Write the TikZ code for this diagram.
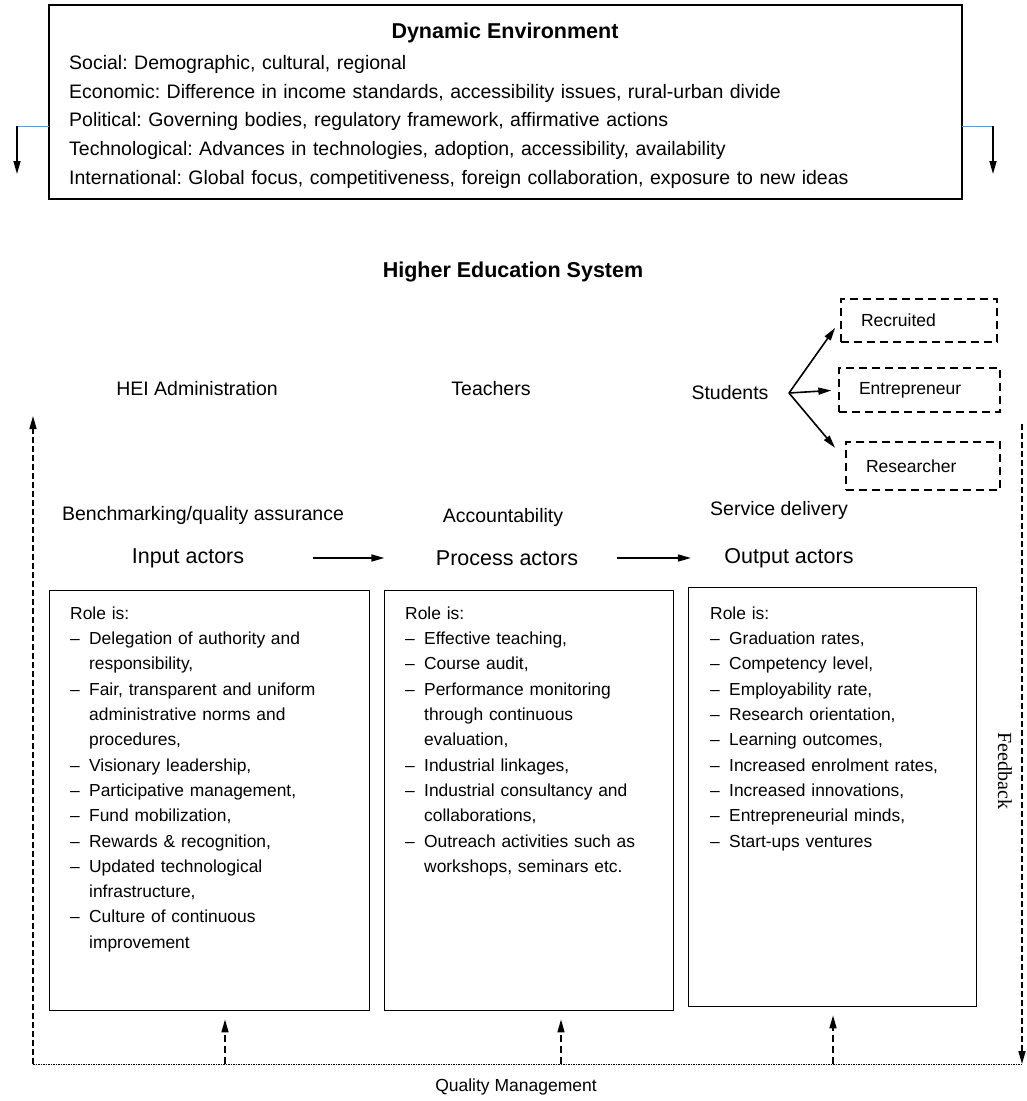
\documentclass[tikz,border=0pt]{standalone}
\usepackage{fontspec}
\setmainfont{Liberation Sans}
\newfontfamily\fbfont{Liberation Serif}
\usetikzlibrary{arrows.meta,positioning}
\definecolor{linkblue}{RGB}{91,155,213}
\setlength{\parindent}{0pt}
\frenchspacing
% one dash-led entry of a role list
\newcommand\roleitem[1]{\par\hangindent=19pt\hangafter=1\noindent\makebox[19pt][l]{\textendash}#1\par}

\begin{document}
\begin{tikzpicture}[x=1pt,y=-1pt,
    arr/.style={line width=1.6pt,-{Triangle[length=13pt,width=7pt]}},
    qmarr/.style={arr,dash pattern=on 7pt off 4pt},
    fbline/.style={line width=1.6pt,dash pattern=on 6pt off 3pt,-{Triangle[length=13pt,width=7pt]}},
    frame/.style={draw,line width=1.4pt,inner sep=0pt},
    outcome/.style={draw,line width=1.3pt,dash pattern=on 8pt off 5pt,inner xsep=20pt,inner ysep=0pt,
      align=left,font=\fontsize{17.5}{21}\selectfont},
    roletxt/.style={anchor=north west,inner sep=0pt,align=left,font=\fontsize{17.4}{25.3}\selectfont},
    actorname/.style={font=\fontsize{19.5}{23}\selectfont},
    stage/.style={font=\fontsize{21.5}{25}\selectfont},
    heading/.style={font=\fontsize{21.5}{25}\selectfont\bfseries}]
  \useasboundingbox (0,0) rectangle (1026,1101);

  % environment box
  \node[frame,minimum width=913pt,minimum height=194pt] (env) at (505.5,102) {};
  \node[heading] (envtitle) at (505,33) {Dynamic Environment};
  \node[anchor=north west,inner sep=0pt,text width=880pt,align=left,
    font=\fontsize{19.5}{28.7}\selectfont] (envtxt) at (69,55) {%
    Social: Demographic, cultural, regional\\
    Economic: Difference in income standards, accessibility issues, rural-urban divide\\
    Political: Governing bodies, regulatory framework, affirmative actions\\
    Technological: Advances in technologies, adoption, accessibility, availability\\
    International: Global focus, competitiveness, foreign collaboration, exposure to new ideas};
  \coordinate (blueL) at (49,126);
  \coordinate (dropL) at (17,126);
  \coordinate (blueR) at (962,126);
  \coordinate (dropR) at (993,126);
  \draw[linkblue,line width=0.9pt] (blueL)--(dropL);
  \draw[linkblue,line width=0.9pt] (blueR)--(dropR);
  \draw[arr] (dropL)--++(0,48);
  \draw[arr] (dropR)--++(0,48);

  \node[heading] (hes) at (513,272) {Higher Education System};

  % actors
  \node[actorname] (hei) at (197,389) {HEI Administration};
  \node[actorname] (teach) at (491,389) {Teachers};
  \node[actorname] (stud) at (730,393) {Students};
  \node[actorname] (bench) at (203,515) {Benchmarking/quality assurance};
  \node[actorname] (account) at (503,517) {Accountability};
  \node[actorname] (service) at (779,510) {Service delivery};

  % student outcomes
  \node[outcome,text width=116pt,minimum height=43pt] (rec) at (919,320.5) {Recruited};
  \node[outcome,text width=121pt,minimum height=44pt] (ent) at (919.5,390) {Entrepreneur};
  \node[outcome,text width=114pt,minimum height=48pt] (res) at (923,466) {Researcher};
  \coordinate (fork) at ([xshift=17pt]stud.east);
  \draw[arr,shorten >=9pt] (fork)--(rec.west);
  \draw[arr,shorten >=7pt] (fork)--(ent.west);
  \draw[arr,shorten >=16pt] (fork)--([yshift=6pt]res.west);

  % stages
  \node[stage] (inact) at (188,558) {Input actors};
  \node[stage] (procact) at (507,558) {Process actors};
  \node[stage] (outact) at (789,558) {Output actors};
  \draw[arr,shorten <=65pt,shorten >=48pt] (inact.east)--(procact.west);
  \draw[arr,shorten <=35pt,shorten >=30pt] (procact.east)--(outact.west);

  \node[frame,anchor=north west,minimum width=320pt,minimum height=420pt] (inbox) at (49,590) {};
  \node[frame,anchor=north west,minimum width=289pt,minimum height=420pt] (procbox) at (384,590) {};
  \node[frame,anchor=north west,minimum width=288pt,minimum height=419pt] (outbox) at (688,587) {};

  \node[roletxt,text width=290pt] (inlist) at (70,606.5) {Role is:
    \roleitem{Delegation of authority and\newline responsibility,}
    \roleitem{Fair, transparent and uniform\newline administrative norms and\newline procedures,}
    \roleitem{Visionary leadership,}
    \roleitem{Participative management,}
    \roleitem{Fund mobilization,}
    \roleitem{Rewards \& recognition,}
    \roleitem{Updated technological\newline infrastructure,}
    \roleitem{Culture of continuous\newline improvement}};
  \node[roletxt,text width=260pt] (proclist) at (405,606.5) {Role is:
    \roleitem{Effective teaching,}
    \roleitem{Course audit,}
    \roleitem{Performance monitoring\newline through continuous\newline evaluation,}
    \roleitem{Industrial linkages,}
    \roleitem{Industrial consultancy and\newline collaborations,}
    \roleitem{Outreach activities such as\newline workshops, seminars etc.}};
  \node[roletxt,text width=260pt] (outlist) at (710,606.5) {Role is:
    \roleitem{Graduation rates,}
    \roleitem{Competency level,}
    \roleitem{Employability rate,}
    \roleitem{Research orientation,}
    \roleitem{Learning outcomes,}
    \roleitem{Increased enrolment rates,}
    \roleitem{Increased innovations,}
    \roleitem{Entrepreneurial minds,}
    \roleitem{Start-ups ventures}};

  % quality management and feedback loop
  \coordinate (fbL) at (33,1064);
  \coordinate (fbR) at (1022,1064);
  \coordinate (fbTopL) at (33,416);
  \coordinate (fbTopR) at (1022,424);
  \draw[line width=1pt,dash pattern=on 1.5pt off 1pt] (fbL)--(fbR);
  \draw[fbline] (fbL)--(fbTopL);
  \draw[fbline] (fbTopR)--(fbR);
  \node[font=\fontsize{20}{24}\fbfont,rotate=-90] (fb) at (1005,771) {Feedback};
  \node[font=\fontsize{17.5}{21}\selectfont] (qm) at (516,1087) {Quality Management};
  \foreach \x/\b in {225/inbox,561/procbox,833/outbox}{
    \draw[qmarr,shorten >=8pt] (\x,1064)--(\x,1064 |- \b.south);
  }
\end{tikzpicture}
\end{document}
